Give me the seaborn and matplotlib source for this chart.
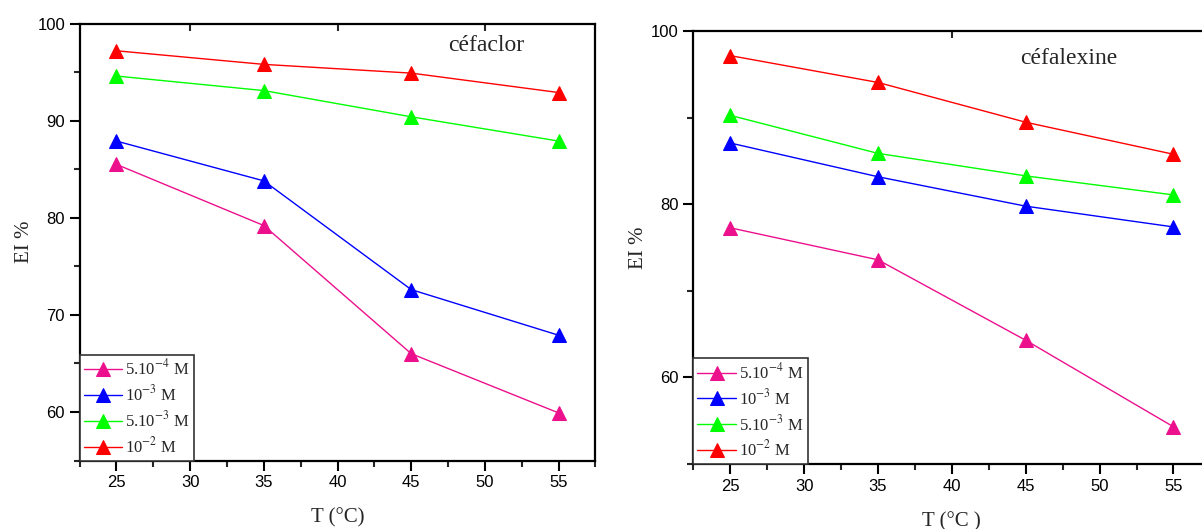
import matplotlib
matplotlib.use("Agg")
import matplotlib.pyplot as plt
from matplotlib.ticker import MultipleLocator, FixedLocator
import seaborn as sns
import pandas as pd

# Temperatures (°C)
temperatures = [25, 35, 45, 55]

# Concentration labels and colours
concentrations = [r"5.10$^{-4}$ M", r"10$^{-3}$ M", r"5.10$^{-3}$ M", r"10$^{-2}$ M"]
colors = ["#EC108C", "#0000FF", "#00FF00", "#FF0000"]

# Inhibition efficiency (%) - céfaclor
cefaclor_5e4 = [85.5, 79.2, 66.0, 59.9]
cefaclor_1e3 = [87.9, 83.8, 72.6, 67.9]
cefaclor_5e3 = [94.6, 93.1, 90.4, 87.9]
cefaclor_1e2 = [97.2, 95.8, 94.9, 92.9]

# Inhibition efficiency (%) - céfalexine
cefalexine_5e4 = [77.3, 73.6, 64.3, 54.3]
cefalexine_1e3 = [87.1, 83.2, 79.8, 77.4]
cefalexine_5e3 = [90.3, 85.9, 83.3, 81.1]
cefalexine_1e2 = [97.2, 94.1, 89.5, 85.8]

sns.set_style("ticks")
plt.rcParams["font.family"] = ["Liberation Sans", "DejaVu Sans"]
plt.rcParams["mathtext.fontset"] = "stix"

serif = ["Liberation Serif", "DejaVu Serif"]

fig = plt.figure(figsize=(12.02, 5.29), dpi=100)
W, H = 1202, 529


def make_axes(left, right, top, bottom):
    return fig.add_axes([left / W, (H - bottom) / H, (right - left) / W, (bottom - top) / H])


ax1 = make_axes(79.6, 595.5, 23.6, 460.5)
ax2 = make_axes(693.3, 1210.4, 31.4, 464.0)


def draw_panel(ax, series, title, ylim, ymajor, yminor, xlabel, top_ticks, label_xy, ylabelpad):
    for vals, lab, col in zip(series, concentrations, colors):
        df = pd.DataFrame({"T": temperatures, "EI": vals})
        sns.lineplot(data=df, x="T", y="EI", ax=ax, color=col, marker="^",
                     markersize=10.5, markeredgecolor=col, linewidth=1.0, label=lab)
    ax.set_xlim(22.5, 57.5)
    ax.set_ylim(*ylim)
    ax.xaxis.set_major_locator(MultipleLocator(5))
    ax.xaxis.set_minor_locator(MultipleLocator(2.5))
    ax.yaxis.set_major_locator(MultipleLocator(ymajor))
    ax.yaxis.set_minor_locator(MultipleLocator(yminor))
    ax.tick_params(axis="both", which="major", direction="out", length=7, width=1.5,
                   labelsize=12, colors="black")
    ax.tick_params(axis="both", which="minor", direction="out", length=4, width=1.5)
    for s in ax.spines.values():
        s.set_linewidth(1.6)
        s.set_color("black")
        s.set_visible(True)
    # inward ticks along the top frame
    sec = ax.secondary_xaxis("top")
    sec.xaxis.set_major_locator(FixedLocator(top_ticks))
    sec.tick_params(direction="in", length=5, width=1.5, labeltop=False)
    sec.spines["top"].set_visible(False)

    ax.set_xlabel(xlabel, fontsize=15, family=serif, labelpad=13)
    ax.set_ylabel("EI %", fontsize=15, family=serif, labelpad=ylabelpad)
    ax.text(label_xy[0], label_xy[1], title, transform=ax.transAxes, fontsize=17,
            family=serif, ha="center", va="center")

    leg = ax.legend(loc="lower left", bbox_to_anchor=(0.0, 0.0), frameon=True,
                    fancybox=False, edgecolor="#333333", framealpha=1,
                    prop={"family": serif, "size": 12}, handlelength=2.3,
                    handletextpad=0.2, borderpad=0.25, labelspacing=0.35,
                    borderaxespad=0.0)
    leg.get_frame().set_linewidth(1.2)


draw_panel(ax1, [cefaclor_5e4, cefaclor_1e3, cefaclor_5e3, cefaclor_1e2], "céfaclor",
           (55, 100), 10, 5, "T (°C)", [30, 40, 50], (0.788, 0.951), 2)
draw_panel(ax2, [cefalexine_5e4, cefalexine_1e3, cefalexine_5e3, cefalexine_1e2], "céfalexine",
           (50, 100), 20, 10, "T (°C )", [40], (0.7266, 0.9385), 2)

fig.savefig("out.png", dpi=100)
